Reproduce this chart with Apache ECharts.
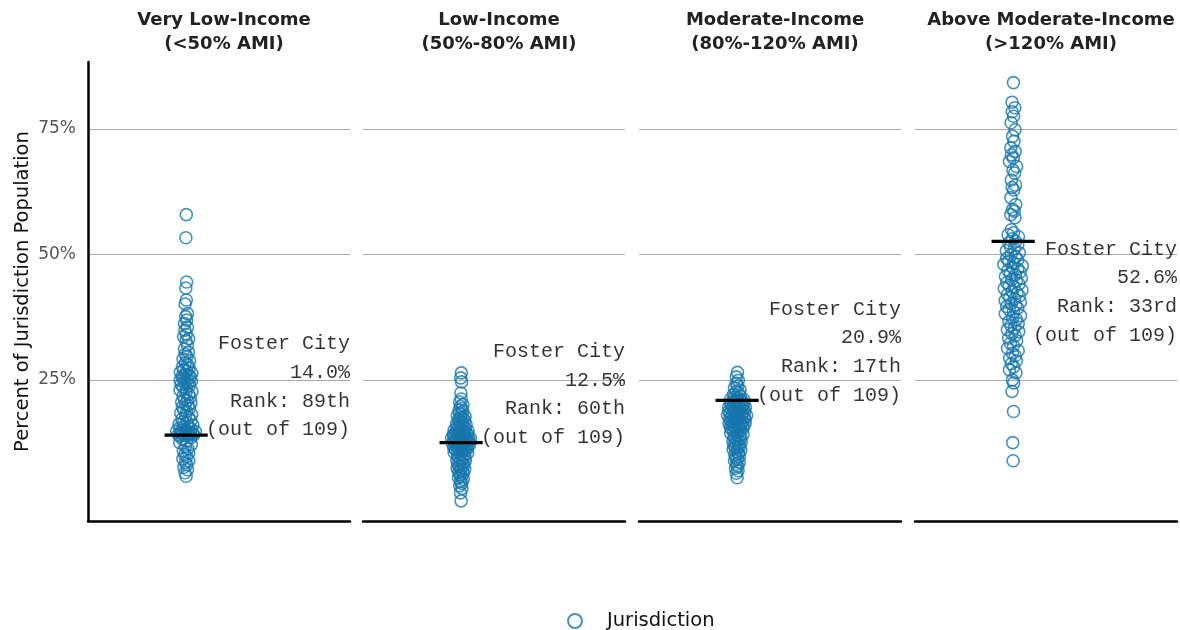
<!DOCTYPE html>
<html>
<head>
<meta charset="utf-8">
<script src="https://cdn.jsdelivr.net/npm/echarts@6/dist/echarts.min.js"></script>
<style>
html,body{margin:0;padding:0;background:#fff;}
#chart{width:1180px;height:630px;}
</style>
</head>
<body>
<div id="chart"></div>
<script>
// ---------- DATA ----------
const panelTitles = [
  'Very Low-Income\n(<50% AMI)',
  'Low-Income\n(50%-80% AMI)',
  'Moderate-Income\n(80%-120% AMI)',
  'Above Moderate-Income\n(>120% AMI)'
];
const yTicks = [25, 50, 75];
const cityName = 'Foster City';
const cityValues = [14.0, 12.5, 20.9, 52.6];
const cityRanks = ['89th', '60th', '17th', '33rd'];
const totalJurisdictions = 109;

const veryLowIncome = [
  57.9, 53.3, 44.5, 43.3, 40.9, 40.1, 38.2, 37.6, 36.9, 36.2, 35.5, 34.9, 34.1, 33.6, 33.2, 32.8,
  31.9, 31.2, 30.5, 30.1, 29.7, 29.2, 28.8, 28.4, 28.0, 27.6, 27.3, 27.0, 26.8, 26.5, 26.3, 26.1,
  25.9, 25.7, 25.5, 25.3, 25.1, 24.9, 24.7, 24.5, 24.3, 24.1, 23.9, 23.6, 23.3, 23.0, 22.7, 22.4,
  22.1, 21.8, 21.5, 21.2, 20.9, 20.6, 20.4, 20.2, 19.9, 19.6, 19.3, 19.0, 18.7, 18.4, 18.1, 17.8,
  17.5, 17.2, 16.9, 16.6, 16.4, 16.2, 16.0, 15.8, 15.6, 15.4, 15.2, 15.0, 14.9, 14.8, 14.7, 14.6,
  14.5, 14.4, 14.3, 14.2, 14.15, 14.1, 14.05, 14.02, 14.0,
  13.8, 13.5, 13.2, 12.9, 12.5, 12.1, 11.7, 11.3, 10.9, 10.5, 10.1, 9.7, 9.3, 8.9, 8.5, 8.1,
  7.6, 7.1, 6.5, 5.8
];
const lowIncome = [
  26.4, 25.4, 24.6, 22.4, 21.2, 20.6, 20.1, 19.7, 19.3, 19.0, 18.7, 18.4, 18.1, 17.9, 17.7, 17.5,
  17.3, 17.1, 16.9, 16.7, 16.5, 16.3, 16.1, 15.9, 15.8, 15.6, 15.4, 15.3, 15.1, 15.0, 14.8, 14.7,
  14.6, 14.5, 14.4, 14.3, 14.2, 14.1, 14.0, 13.9, 13.8, 13.7, 13.6, 13.5, 13.45, 13.4, 13.3, 13.25,
  13.2, 13.1, 13.0, 12.95, 12.9, 12.85, 12.8, 12.7, 12.65, 12.6, 12.55, 12.5,
  12.4, 12.3, 12.2, 12.1, 12.0, 11.9, 11.8, 11.7, 11.6, 11.5, 11.4, 11.3, 11.2, 11.1, 11.0, 10.9,
  10.8, 10.6, 10.4, 10.2, 10.0, 9.8, 9.6, 9.4, 9.2, 9.0, 8.8, 8.6, 8.4, 8.2, 8.0, 7.8, 7.6, 7.4,
  7.2, 7.0, 6.8, 6.6, 6.4, 6.1, 5.8, 5.5, 5.2, 4.8, 4.4, 3.9, 3.4, 2.5, 0.9
];
const moderateIncome = [
  26.5, 25.6, 24.9, 24.3, 23.8, 23.4, 23.0, 22.7, 22.4, 22.1, 21.8, 21.6, 21.4, 21.2, 21.05, 20.95,
  20.9,
  20.8, 20.7, 20.6, 20.5, 20.4, 20.3, 20.2, 20.1, 20.0, 19.9, 19.8, 19.7, 19.6, 19.5, 19.4, 19.3,
  19.2, 19.1, 19.0, 18.9, 18.8, 18.7, 18.6, 18.5, 18.4, 18.3, 18.2, 18.1, 18.0, 17.9, 17.8, 17.7,
  17.6, 17.5, 17.4, 17.3, 17.2, 17.1, 17.0, 16.9, 16.8, 16.7, 16.6, 16.5, 16.4, 16.3, 16.2, 16.1,
  16.0, 15.9, 15.8, 15.7, 15.6, 15.5, 15.4, 15.3, 15.2, 15.0, 14.8, 14.6, 14.4, 14.2, 14.0, 13.8,
  13.6, 13.4, 13.2, 13.0, 12.8, 12.6, 12.4, 12.2, 12.0, 11.8, 11.6, 11.4, 11.2, 11.0, 10.7, 10.4,
  10.1, 9.8, 9.5, 9.2, 8.9, 8.6, 8.2, 7.8, 7.4, 6.9, 6.4, 5.5
];
const aboveModerateIncome = [
  84.2, 80.3, 79.2, 78.4, 77.5, 76.2, 74.8, 73.5, 72.5, 71.2, 70.5, 69.8, 69.2, 68.5, 67.5, 66.8,
  66.2, 64.8, 63.8, 63.3, 62.8, 61.3, 59.9, 58.9, 58.6, 57.9, 57.3, 54.9, 54.3, 53.9, 53.5, 53.1,
  52.6,
  52.3, 51.9, 51.5, 51.1, 50.7, 50.3, 49.9, 49.5, 49.2, 48.9, 48.6, 48.3, 48.0, 47.7, 47.4, 47.1,
  46.8, 46.5, 46.2, 45.9, 45.6, 45.3, 45.0, 44.7, 44.4, 44.1, 43.8, 43.5, 43.2, 42.9, 42.6, 42.3,
  42.0, 41.7, 41.4, 41.1, 40.8, 40.5, 40.2, 39.9, 39.6, 39.3, 39.0, 38.6, 38.2, 37.8, 37.4, 37.0,
  36.6, 36.2, 35.8, 35.4, 35.0, 34.6, 34.2, 33.8, 33.3, 32.8, 32.3, 31.8, 31.3, 30.8, 30.3, 29.8,
  29.3, 28.8, 28.2, 27.6, 27.0, 26.4, 25.0, 24.4, 22.7, 18.7, 12.5, 8.9
];
const panelValues = [veryLowIncome, lowIncome, moderateIncome, aboveModerateIncome];

// ---------- LAYOUT HELPERS ----------
const BLUE = '#1777ad';
const MONO = '"Liberation Mono", "Courier New", monospace';
const SANS = '"DejaVu Sans", sans-serif';
const X_MIN = -1, X_MAX = 1.67;
const gridLefts = [88, 363, 639, 915];
const gridWidth = 262;

function vdc(n) { // van der Corput sequence (quasi-random spread)
  let v = 0, denom = 1;
  while (n) { denom *= 2; v += (n % 2) / denom; n = Math.floor(n / 2); }
  return v;
}
function swarmOffsets(vals, halfWidth) {
  const bw = 1.6;
  const dens = vals.map(v => vals.reduce((s, u) => s + Math.exp(-0.5 * ((v - u) / bw) ** 2), 0));
  const maxD = Math.max(...dens);
  const order = vals.map((v, i) => i).sort((a, b) => vals[a] - vals[b]);
  const off = new Array(vals.length);
  order.forEach((idx, k) => { off[idx] = (vdc(k + 1) * 2 - 1) * halfWidth * dens[idx] / maxD; });
  return off;
}

// ---------- OPTION ----------
const grids = [], xAxes = [], yAxes = [], titles = [], series = [];
panelTitles.forEach((t, i) => {
  grids.push({ left: gridLefts[i], width: gridWidth, top: 62, height: 459 });
  titles.push({
    text: t, left: gridLefts[i] + gridWidth / 2, top: 3, textAlign: 'center',
    textStyle: { fontFamily: SANS, fontSize: 18, fontWeight: 'bold', color: '#222', lineHeight: 24 }
  });
  xAxes.push({
    gridIndex: i, type: 'value', min: X_MIN, max: X_MAX,
    axisLine: { show: true, onZero: false, lineStyle: { color: '#000', width: 2.5 } },
    axisTick: { show: false }, axisLabel: { show: false }, splitLine: { show: false }
  });
  yAxes.push({
    gridIndex: i, type: 'value', min: -3.1, max: 88.3,
    name: i === 0 ? 'Percent of Jurisdiction Population' : '',
    nameLocation: 'middle', nameGap: 55, nameRotate: 90,
    nameTextStyle: { fontFamily: SANS, fontSize: 19.5, color: '#111' },
    axisLine: { show: i === 0, onZero: false, lineStyle: { color: '#000', width: 2.5 } },
    axisTick: { show: false, customValues: yTicks },
    axisLabel: {
      show: i === 0, customValues: yTicks, formatter: v => v + '%',
      fontFamily: SANS, fontSize: 17, color: '#555', margin: 12
    },
    splitLine: { show: true, lineStyle: { color: '#aaaaaa', width: 1.2 } }
  });

  const vals = panelValues[i];
  const offs = swarmOffsets(vals, 0.1);
  series.push({
    name: 'Jurisdiction', type: 'scatter', xAxisIndex: i, yAxisIndex: i,
    data: vals.map((v, k) => [offs[k], v]),
    symbol: 'circle', symbolSize: 12,
    itemStyle: { color: 'rgba(0,0,0,0)', borderColor: BLUE, borderWidth: 1.6 },
    emphasis: { disabled: true }, z: 2
  });
  series.push({
    name: 'city-line-' + i, type: 'line', xAxisIndex: i, yAxisIndex: i,
    data: [[-0.22, cityValues[i]], [0.22, cityValues[i]]],
    symbol: 'none', lineStyle: { color: '#000', width: 3.2 }, z: 5, silent: true
  });
  const below = i === 3;
  series.push({
    name: 'city-label-' + i, type: 'scatter', xAxisIndex: i, yAxisIndex: i,
    data: [[X_MAX, cityValues[i]]], symbolSize: 0, silent: true, z: 6,
    label: {
      show: true, position: 'left', distance: 0, align: 'right',
      offset: below ? [0, 51] : [0, -48],
      formatter: () => [cityName, cityValues[i].toFixed(1) + '%', 'Rank: ' + cityRanks[i],
        '(out of ' + totalJurisdictions + ')'].join('\n'),
      fontFamily: MONO, fontSize: 20, color: '#000', lineHeight: 28.7
    }
  });
});

const chart = echarts.init(document.getElementById('chart'), null, { renderer: 'canvas' });
chart.setOption({
  animation: false,
  backgroundColor: '#fff',
  title: titles,
  grid: grids, xAxis: xAxes, yAxis: yAxes, series: series,
  legend: {
    data: ['Jurisdiction'], left: 562, top: 606,
    itemWidth: 14, itemHeight: 14, icon: 'circle',
    textStyle: { fontFamily: SANS, fontSize: 19.5, color: '#111', padding: [0, 0, 0, 20] }
  }
});
</script>
</body>
</html>
